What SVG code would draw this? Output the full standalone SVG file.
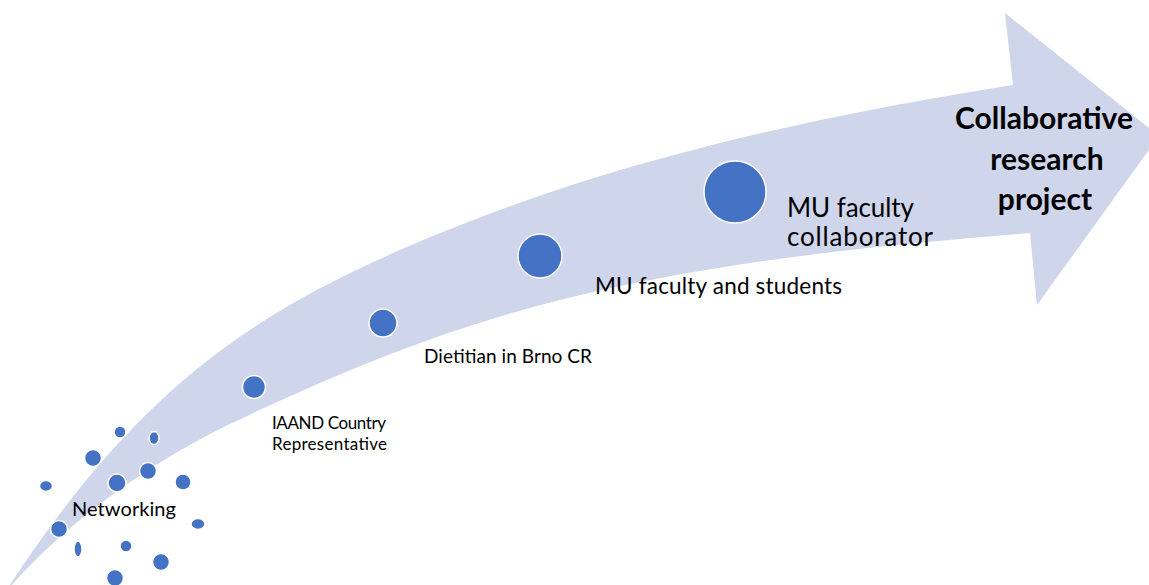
<svg xmlns="http://www.w3.org/2000/svg" width="1149" height="585" viewBox="0 0 1149 585">
  <style>
    .band { fill: #CFD5EA; stroke: none; }
    .dot { fill: #4472C4; stroke: #FFFFFF; stroke-width: 1.5; }
    .lbl { font-family: Lato, "Open Sans", "Liberation Sans", sans-serif; fill: #000000; }
    .head { font-family: Lato, "Open Sans", "Liberation Sans", sans-serif; font-weight: bold; font-size: 30px; fill: #000000; text-anchor: middle; }
  </style>

  <rect width="1149" height="585" fill="#FFFFFF"/>

  <!-- curved progression arrow -->
  <g id="connectors">
    <path class="band" d="M 4,594
      C 134,392 250,316 400,250
      C 600,162 813,117 1013,85
      L 1005,13
      L 1159,136
      L 1037,305
      L 1030,233
      C 880,245 710,262 560,300
      C 450,327 340,371 230,424
      C 155,460 64,522 4,594 Z"/>
  </g>

  <!-- scattered contacts -->
  <g id="networking">
    <circle class="dot" cx="120" cy="432" r="6"/>
    <ellipse class="dot" cx="154" cy="438" rx="5" ry="6.5"/>
    <circle class="dot" cx="93" cy="458" r="8.5"/>
    <ellipse class="dot" cx="46" cy="486" rx="6.5" ry="5.5"/>
    <circle class="dot" cx="117" cy="483" r="9"/>
    <circle class="dot" cx="148" cy="471" r="8.5"/>
    <circle class="dot" cx="183" cy="482" r="8"/>
    <circle class="dot" cx="59" cy="529" r="8.5"/>
    <ellipse class="dot" cx="198" cy="524" rx="7" ry="5.5"/>
    <ellipse class="dot" cx="78" cy="549" rx="4" ry="8"/>
    <circle class="dot" cx="126" cy="546" r="6"/>
    <circle class="dot" cx="161" cy="562" r="8.5"/>
    <circle class="dot" cx="115" cy="578" r="8.5"/>
    <text class="lbl" x="72" y="516" font-size="20" textLength="104">Networking</text>
  </g>

  <g id="iaand">
    <circle class="dot" cx="254" cy="387" r="11.5"/>
    <text class="lbl" x="272" y="429" font-size="17" textLength="114">IAAND Country</text>
    <text class="lbl" x="272" y="450" font-size="17" textLength="115">Representative</text>
  </g>

  <g id="dietitian">
    <circle class="dot" cx="383" cy="323" r="14"/>
    <text class="lbl" x="424" y="363" font-size="19" textLength="168">Dietitian in Brno CR</text>
  </g>

  <g id="faculty-students">
    <circle class="dot" cx="540" cy="256" r="22"/>
    <text class="lbl" x="595" y="294" font-size="22.5" textLength="247">MU faculty and students</text>
  </g>

  <g id="faculty-collaborator">
    <circle class="dot" cx="735" cy="192" r="31"/>
    <text class="lbl" x="787" y="217" font-size="26" textLength="127">MU faculty</text>
    <text class="lbl" x="787" y="246" font-size="26" textLength="146">collaborator</text>
  </g>

  <g id="research-project">
    <text class="head" x="1044" y="129" textLength="178">Collaborative</text>
    <text class="head" x="1047" y="170">research</text>
    <text class="head" x="1045" y="210">project</text>
  </g>
</svg>
